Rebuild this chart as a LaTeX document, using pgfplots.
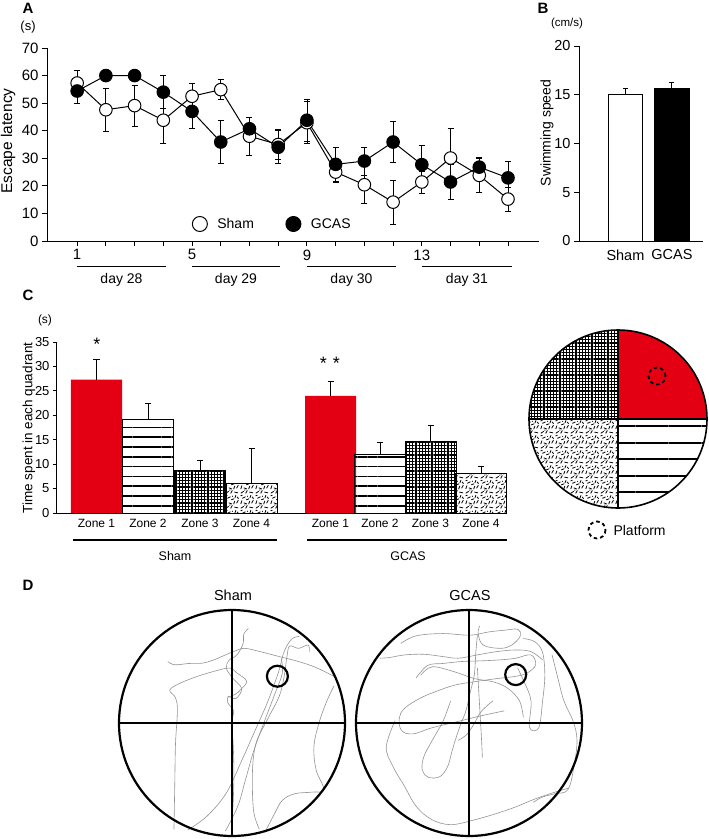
\documentclass[border=0pt]{standalone}
\usepackage{fontspec}
\setmainfont{Liberation Sans}
\usepackage{pgfplots}
\pgfplotsset{compat=1.18}
\usetikzlibrary{patterns,patterns.meta}
\definecolor{zred}{RGB}{228,0,18}
\newcommand{\fs}[1]{\fontsize{#1}{#1}\selectfont}
\pgfdeclarepatternformonly{speckle}{\pgfpointorigin}{\pgfqpoint{15pt}{15pt}}{\pgfqpoint{15pt}{15pt}}{%
  \pgfsetlinewidth{0.85pt}%
  \pgfpathmoveto{\pgfqpoint{0.8pt}{0.8pt}}\pgfpathlineto{\pgfqpoint{4pt}{2.8pt}}%
  \pgfpathmoveto{\pgfqpoint{6pt}{0.6pt}}\pgfpathlineto{\pgfqpoint{7.8pt}{3.8pt}}%
  \pgfpathmoveto{\pgfqpoint{10pt}{2pt}}\pgfpathlineto{\pgfqpoint{13.8pt}{1.2pt}}%
  \pgfpathmoveto{\pgfqpoint{0.8pt}{5.2pt}}\pgfpathlineto{\pgfqpoint{2pt}{8.8pt}}%
  \pgfpathmoveto{\pgfqpoint{4pt}{6.5pt}}\pgfpathlineto{\pgfqpoint{7.4pt}{5.2pt}}%
  \pgfpathmoveto{\pgfqpoint{9.2pt}{5pt}}\pgfpathlineto{\pgfqpoint{10.4pt}{8.4pt}}%
  \pgfpathmoveto{\pgfqpoint{12.3pt}{6pt}}\pgfpathlineto{\pgfqpoint{14.2pt}{9.3pt}}%
  \pgfpathmoveto{\pgfqpoint{2.5pt}{11.2pt}}\pgfpathlineto{\pgfqpoint{5.8pt}{12.8pt}}%
  \pgfpathmoveto{\pgfqpoint{6.6pt}{9.6pt}}\pgfpathlineto{\pgfqpoint{9.8pt}{10.8pt}}%
  \pgfpathmoveto{\pgfqpoint{10.5pt}{11.6pt}}\pgfpathlineto{\pgfqpoint{11.6pt}{14.4pt}}%
  \pgfpathmoveto{\pgfqpoint{12.8pt}{12.8pt}}\pgfpathlineto{\pgfqpoint{14.4pt}{10.8pt}}%
  \pgfpathmoveto{\pgfqpoint{0.6pt}{13.8pt}}\pgfpathlineto{\pgfqpoint{2.6pt}{14.5pt}}%
  \pgfpathmoveto{\pgfqpoint{5pt}{3.6pt}}\pgfpathlineto{\pgfqpoint{5.3pt}{4.6pt}}%
  \pgfpathmoveto{\pgfqpoint{7.6pt}{13pt}}\pgfpathlineto{\pgfqpoint{8.3pt}{13.6pt}}%
  \pgfusepath{stroke}}
\tikzset{trace/.style={gray!85, line width=0.6pt, smooth, tension=0.6, solid}}

\pgfplotstableread{
x y e
1 57.3 4.5
2 47.6 7.7
3 49.1 7.5
4 43.8 8.5
5 52.5 4.5
6 54.9 3.7
7 38.0 7.0
8 35.0 5.5
9 42.9 7.6
10 25.0 3.8
11 20.4 6.9
12 14.1 8.0
13 21.4 4.0
14 30.1 10.6
15 23.8 6.3
16 15.2 4.3
}\shamA
\pgfplotstableread{
x y e
1 54.4 4.6
2 60.0 1.0
3 60.0 1.0
4 54.0 6.0
5 47.0 6.0
6 35.9 7.9
7 40.7 4.3
8 34.0 6.0
9 43.8 7.5
10 27.8 6.2
11 29.0 5.1
12 35.9 7.3
13 27.7 6.8
14 21.4 6.3
15 26.8 3.7
16 22.9 6.0
}\gcasA

\begin{document}
\begin{tikzpicture}
\path[use as bounding box] (0,0) rectangle (709pt,-839pt);

% ---------------- Panel A ----------------
\begin{axis}[at={(47pt,-241pt)}, anchor=south west, scale only axis,
  width=492pt, height=193pt,
  xmin=-0.05, xmax=17.08, ymin=0, ymax=70,
  axis lines*=left, axis line style={line width=1pt},
  tick align=outside, major tick length=5pt, tick style={black, line width=0.9pt},
  xtick={1,...,16}, xticklabels={1,,,,5,,,,9,,,,13,,,},
  ytick={0,10,...,70},
  /pgf/number format/assume math mode=true,
  ticklabel style={font=\fs{15}},
  clip=false,
  legend style={at={(axis cs:4.9,6.17)}, anchor=west, draw=none, fill=none,
     legend columns=2, font=\fs{14},
     /tikz/every odd column/.append style={column sep=8pt},
     /tikz/every even column/.append style={column sep=30pt}},
  legend image code/.code={\draw[#1, mark size=7.5pt] plot coordinates {(0.25cm,0cm)};},
]
\addplot[black, line width=1pt, mark=*, mark size=6.3pt,
  mark options={fill=white, line width=1pt},
  error bars/.cd, y dir=both, y explicit,
  error bar style={line width=0.8pt},
  error mark options={rotate=90, mark size=3pt, line width=0.8pt}]
  table[x=x, y=y, y error=e] {\shamA};
\addlegendentry{Sham}
\addplot[black, line width=1pt, mark=*, mark size=6.3pt,
  mark options={fill=black, line width=1pt},
  error bars/.cd, y dir=both, y explicit,
  error bar style={line width=0.8pt},
  error mark options={rotate=90, mark size=3pt, line width=0.8pt}]
  table[x=x, y=y, y error=e] {\gcasA};
\addlegendentry{GCAS}
\end{axis}

% ---------------- Panel B ----------------
\begin{axis}[at={(579pt,-241pt)}, anchor=south west, scale only axis,
  width=124pt, height=195pt,
  xmin=0, xmax=2.67, ymin=0, ymax=20,
  axis lines*=left, axis line style={line width=1pt},
  tick align=outside, major tick length=5pt, tick style={black, line width=0.9pt},
  ytick={0,5,...,20}, xtick={1,2}, xticklabels={Sham,GCAS},
  x tick style={draw=none},
  /pgf/number format/assume math mode=true,
  ticklabel style={font=\fs{14.5}},
]
\addplot[ybar, bar width=0.75, bar shift=0pt, fill=white, draw=black, line width=1pt,
  error bars/.cd, y dir=plus, y explicit,
  error bar style={line width=0.9pt},
  error mark options={rotate=90, mark size=2.5pt, line width=0.9pt}]
  coordinates {(1,15.0) +- (0,0.65)};
\addplot[ybar, bar width=0.75, bar shift=0pt, fill=black, draw=black, line width=1pt,
  error bars/.cd, y dir=plus, y explicit,
  error bar style={line width=0.9pt},
  error mark options={rotate=90, mark size=2.5pt, line width=0.9pt}]
  coordinates {(2,15.65) +- (0,0.6)};
\end{axis}

% ---------------- Panel C ----------------
\begin{axis}[at={(57pt,-513pt)}, anchor=south west, scale only axis,
  width=449pt, height=171pt,
  xmin=57, xmax=506, ymin=0, ymax=35,
  axis lines*=left, axis line style={line width=1pt},
  tick align=outside, major tick length=4pt, tick style={black, line width=0.9pt},
  ytick={0,5,...,35},
  xtick={96.5,148,200,251.5,330.5,380,430.5,481},
  xticklabels={Zone 1,Zone 2,Zone 3,Zone 4,Zone 1,Zone 2,Zone 3,Zone 4},
  x tick style={draw=none},
  x tick label style={font=\fs{12}, yshift=1pt},
  y tick label style={font=\fs{13}},
  /pgf/number format/assume math mode=true,
  clip=false,
]
\addplot[ybar, bar width=51, bar shift=0pt, fill=zred, draw=none,
  error bars/.cd, y dir=plus, y explicit,
  error bar style={line width=1pt, black},
  error mark options={rotate=90, mark size=3pt, line width=1pt, black}]
  coordinates {(96.5,27.3) +- (0,4.1) (330.5,24.0) +- (0,3.0)};
\addplot[ybar, bar width=51, bar shift=0pt, draw=black, line width=1pt,
  pattern={Lines[angle=0, distance=9.8pt, line width=1.6pt]},
  error bars/.cd, y dir=plus, y explicit,
  error bar style={line width=1pt},
  error mark options={rotate=90, mark size=3pt, line width=1pt}]
  coordinates {(148,19.2) +- (0,3.3) (380,12.0) +- (0,2.5)};
\addplot[ybar, bar width=51, bar shift=0pt, draw=black, line width=1pt,
  pattern={Hatch[angle=0, distance=3.2pt, line width=1.3pt]},
  error bars/.cd, y dir=plus, y explicit,
  error bar style={line width=1pt},
  error mark options={rotate=90, mark size=3pt, line width=1pt}]
  coordinates {(200,8.6) +- (0,2.2) (430.5,14.7) +- (0,3.3)};
\addplot[ybar, bar width=51, bar shift=0pt, draw=black, line width=1pt,
  pattern=speckle,
  error bars/.cd, y dir=plus, y explicit,
  error bar style={line width=1pt},
  error mark options={rotate=90, mark size=3pt, line width=1pt}]
  coordinates {(251.5,6.1) +- (0,7.2) (481,8.1) +- (0,1.5)};
\end{axis}

% ---------------- Panel D swim paths ----------------
\begin{axis}[at={(119pt,-836.5pt)}, anchor=south west, scale only axis,
  width=226pt, height=226pt, xmin=53, xmax=641, ymin=25, ymax=712,
  y dir=reverse, axis lines=none, clip=false]
\addplot[trace] coordinates {(196,690) (198,560) (200,430) (205,330) (200,290) (185,268) (205,250) (250,228) (300,210) (340,200) (360,215) (385,240) (370,265) (355,280) (335,288)};
\addplot[trace] coordinates {(180,180) (198,190) (235,186) (270,185) (300,175) (330,160) (355,148) (380,140) (420,150) (470,165) (520,180) (565,198) (612,225)};
\addplot[trace] coordinates {(390,80) (378,95) (376,125) (366,150) (355,165) (340,175) (332,200) (350,232) (372,262) (358,292) (338,287) (336,305) (352,332) (346,362) (350,430) (352,520) (350,610) (346,690)};
\addplot[trace] coordinates {(475,170) (478,215) (458,280) (432,360) (404,450) (382,540) (362,620) (330,695)};
\addplot[trace] coordinates {(548,150) (545,130) (520,140) (497,133) (490,165) (482,230) (470,285) (442,350) (412,420) (402,480) (400,560) (404,640) (418,690)};
\addplot[trace] coordinates {(612,255) (592,305) (572,372) (560,440) (566,510) (586,570) (555,577) (510,582) (478,602) (458,642) (432,700)};
\addplot[trace] coordinates {(232,692) (282,650) (332,580) (372,482) (410,382) (440,302) (468,212) (482,152) (502,112) (522,104)};
\end{axis}
\begin{axis}[at={(355.6pt,-836.5pt)}, anchor=south west, scale only axis,
  width=226pt, height=226pt, xmin=672, xmax=1262, ymin=25, ymax=712,
  y dir=reverse, axis lines=none, clip=false]
\addplot[trace] coordinates {(735,170) (760,168) (800,160) (850,158) (900,165) (940,170) (990,160) (1040,150) (1090,145) (1130,150) (1160,175)};
\addplot[trace] coordinates {(790,125) (830,102) (900,95) (970,100) (1020,90) (1060,85) (1095,82) (1102,102) (1080,130) (1050,140) (1005,130) (992,95) (996,72)};
\addplot[trace] coordinates {(830,230) (860,192) (900,186) (950,180) (1000,178) (1050,175) (1090,170) (1130,160) (1142,190) (1120,215) (1090,225) (1040,232) (980,242) (930,252) (880,272) (840,292) (800,322) (786,352) (792,390) (822,400) (870,382) (940,362) (1000,345) (1060,330)};
\addplot[trace] coordinates {(775,360) (752,440) (770,500) (800,560) (830,620) (870,660) (920,676) (980,662) (1040,642) (1090,622) (1140,598) (1190,578) (1228,565)};
\addplot[trace] coordinates {(1185,160) (1200,230) (1216,300) (1240,362) (1250,420) (1242,500) (1226,570) (1192,582) (1160,592) (1136,608)};
\addplot[trace] coordinates {(920,300) (900,362) (872,420) (850,470) (846,510) (862,532) (892,530) (912,500) (922,460) (932,420) (946,372) (960,330) (972,270) (982,220) (986,150) (990,100)};
\addplot[trace] coordinates {(990,200) (995,300) (1000,400) (1003,472)};
\addplot[trace] coordinates {(1095,200) (1112,242) (1130,300) (1126,380) (1150,382) (1160,302) (1166,222) (1160,152) (1140,120) (1110,110)};
\addplot[trace] coordinates {(842,222) (872,196) (932,212) (982,232) (1032,242) (1070,262) (1100,300) (1110,350)};
\addplot[trace] coordinates {(1030,300) (1000,332) (980,372) (962,402) (940,420)};
\end{axis}

% ---------------- annotations (px coordinates, y down) ----------------
\begin{scope}[x=1pt, y=-1pt]
  % panel labels
  \node[font=\fs{15}\bfseries] at (28,8) {A};
  \node[font=\fs{15}\bfseries] at (543,8) {B};
  \node[font=\fs{15}\bfseries] at (28,295) {C};
  \node[font=\fs{15}\bfseries] at (28,585) {D};
  % panel A texts
  \node[font=\fs{13}] at (28,27) {(s)};
  \node[font=\fs{15.5}, rotate=90] at (8,141) {Escape latency};
  \foreach \a/\b/\t in {77/166/day 28, 192/280/day 29, 307/396/day 30, 422/512/day 31}{
    \draw[line width=0.9pt] (\a,266.5) -- (\b,266.5);
    \node[font=\fs{14}] at ({(\a+\b)/2},280) {\t};
  }
  % panel B texts
  \node[font=\fs{11.5}] at (567,24) {(cm/s)};
  \node[font=\fs{14}, rotate=90] at (547,133) {Swimming speed};
  % panel C texts
  \node[font=\fs{12}] at (45,320) {(s)};
  \node[font=\fs{13.5}, rotate=90] at (29,428) {Time spent in each quadrant};
  \node[font=\fs{18}] at (97,344) {*};
  \node[font=\fs{18}] at (330,363) {*\,\,*};
  \draw[line width=2.4pt] (73,540) -- (277,540);
  \draw[line width=2.4pt] (307,540) -- (507,540);
  \node[font=\fs{12.5}] at (175,556) {Sham};
  \node[font=\fs{12.5}] at (408,556) {GCAS};
  % platform legend
  \draw[line width=1.8pt, dash pattern=on 3.5pt off 3pt] (597,530) circle (8.5);
  \node[font=\fs{14}, anchor=west] at (610,530) {Platform};
  % panel D texts and arenas
  \node[font=\fs{14.5}] at (233,595) {Sham};
  \node[font=\fs{14.5}] at (470,595) {GCAS};
  \foreach \cx/\px/\py in {232/277.4/676.2, 469/515.7/674.6}{
    \draw[line width=2.2pt] (\cx,723) circle (113);
    \draw[line width=2.2pt] (\cx-113,723) -- (\cx+113,723);
    \draw[line width=2.2pt] (\cx,610) -- (\cx,836);
    \draw[line width=2.2pt] (\px,\py) circle (10.5);
  }
\end{scope}

% ---------------- quadrant schematic (y up) ----------------
\begin{scope}[shift={(618pt,-419pt)}, x=1pt, y=1pt]
  \fill[zred] (0,0) -- (89,0) arc[start angle=0, end angle=90, radius=89] -- cycle;
  \fill[pattern={Hatch[angle=0, distance=3.2pt, line width=1.3pt]}] (0,0) -- (0,89) arc[start angle=90, end angle=180, radius=89] -- cycle;
  \fill[pattern=speckle] (0,0) -- (-89,0) arc[start angle=180, end angle=270, radius=89] -- cycle;
  \fill[pattern={Lines[angle=0, distance=16.5pt, line width=2pt]}] (0,0) -- (0,-89) arc[start angle=270, end angle=360, radius=89] -- cycle;
  \draw[line width=1.6pt] (0,0) circle (89);
  \draw[line width=1.6pt] (-89,0) -- (89,0);
  \draw[line width=1.6pt] (0,-89) -- (0,89);
  \draw[line width=1.8pt, dash pattern=on 3.5pt off 3pt] (39,43) circle (8.5);
\end{scope}
\end{tikzpicture}
\end{document}
